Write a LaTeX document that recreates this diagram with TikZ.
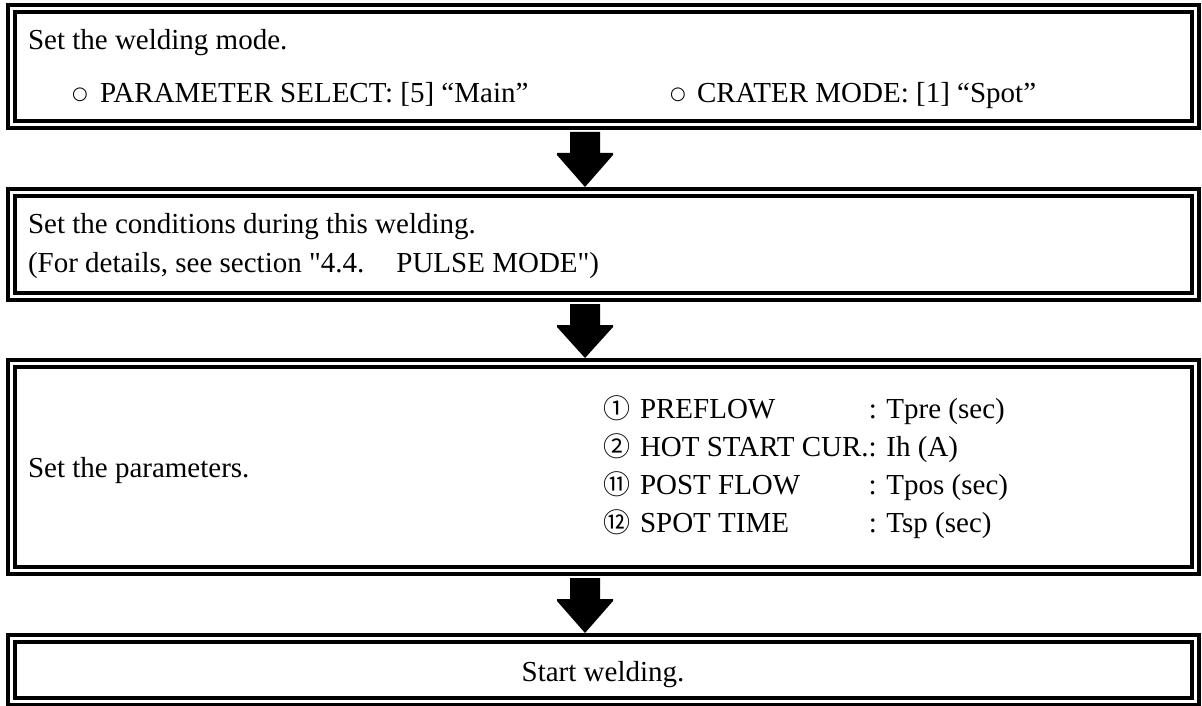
\documentclass[tikz,border=0pt]{standalone}
\usepackage{fontspec}
\setmainfont{Liberation Serif}
\newfontfamily\serifplain{Liberation Serif}
\newfontfamily\cjkf{Noto Sans CJK JP}
\newfontfamily\symf{DejaVu Sans}
\usetikzlibrary{calc}
\newlength\lblw
\newcommand\msz{\serifplain\fontsize{29}{35}\selectfont}
\newcommand\lbl[1]{\makebox[\lblw][l]{#1}}
\newcommand\cnum[1]{{\cjkf\fontsize{27}{31}\selectfont #1}\hspace{10pt}}
\newcommand\blockarrow[2]{%
  \fill ($(#1)+(-15,0)$) -- ($(#1)+(15,0)$) -- ($(#1)+(15,21)$) -- ($(#1)+(28,21)$) -- ($(#1)+(28,23)$) -- (#2)
    -- ($(#1)+(-28,23)$) -- ($(#1)+(-28,21)$) -- ($(#1)+(-15,21)$) -- cycle;}
\begin{document}
\settowidth{\lblw}{\msz HOT START CUR.}%
\begin{tikzpicture}[x=1pt,y=-1pt,
  every node/.style={inner sep=0pt, outer sep=0pt},
  dbox/.style={draw, line width=4pt, double, double distance=3pt, minimum width=1184pt},
  txt/.style={anchor=base west, font=\msz},
  ctxt/.style={anchor=base, font=\msz},
  bullet/.style={anchor=center, font=\symf\fontsize{18}{18}\selectfont}]
\useasboundingbox (0,0) rectangle (1202,706);
% boxes
\node[dbox, minimum height=116pt] (b1) at (603.5,66.5) {};
\node[dbox, minimum height=104pt] (b2) at (603.5,244.5) {};
\node[dbox, minimum height=207pt] (b3) at (603.5,467) {};
\node[dbox, minimum height=62.5pt] (b4) at (603.5,669.75) {};
% box 1 text
\node[txt] (t1a) at (28,50) {Set the welding mode.};
\node[bullet] (o1) at (80,95) {○};
\node[txt] (t1b) at (100,103) {PARAMETER SELECT: [5] “Main”};
\node[bullet] (o2) at (678,95) {○};
\node[txt] (t1c) at (697,103) {CRATER MODE: [1] “Spot”};
% box 2 text
\node[txt] (t2a) at (28,233) {Set the conditions during this welding.};
\node[txt] (t2b) at (28,272) {(For details, see section "4.4.\hspace{32pt}PULSE MODE")};
% box 3 text
\node[txt] (t3) at (28,477) {Set the parameters.};
\node[txt] (r1) at (603,418) {\cnum{①}\lbl{PREFLOW}: Tpre (sec)};
\node[txt] (r2) at (603,456) {\cnum{②}HOT START CUR.: Ih (A)};
\node[txt] (r3) at (603,494) {\cnum{⑪}\lbl{POST FLOW}: Tpos (sec)};
\node[txt] (r4) at (603,532) {\cnum{⑫}\lbl{SPOT TIME}: Tsp (sec)};
% box 4 text
\node[ctxt] (t4) at (603,681) {Start welding.};
% arrows
\coordinate (ax) at (585,0);
\coordinate (a1s) at ($(b1.south -| ax)+(0,7.5)$);
\coordinate (a1e) at ($(b2.north -| ax)+(0,-5.5)$);
\coordinate (a2s) at ($(b2.south -| ax)+(0,7.5)$);
\coordinate (a2e) at ($(b3.north -| ax)+(0,-5.5)$);
\coordinate (a3s) at ($(b3.south -| ax)+(0,7.5)$);
\coordinate (a3e) at ($(b4.north -| ax)+(0,-5.5)$);
\blockarrow{a1s}{a1e}
\blockarrow{a2s}{a2e}
\blockarrow{a3s}{a3e}
\end{tikzpicture}
\end{document}
